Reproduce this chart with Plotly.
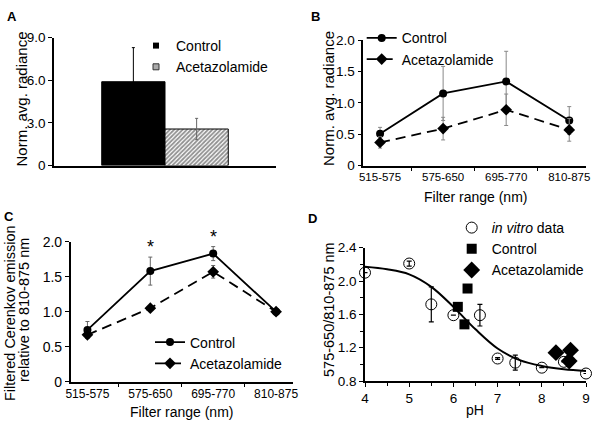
import plotly.graph_objects as go

# ---------- data ----------
# Panel A
a_group = ["all"]
a_ctrl = [5.9]
a_ctrl_err = [2.4]
a_acet = [2.57]
a_acet_err = [0.75]

# Panel B
filters = ["515-575", "575-650", "695-770", "810-875"]
b_ctrl = [0.51, 1.15, 1.34, 0.72]
b_ctrl_err = [0.10, 0.43, 0.48, 0.22]
b_acet = [0.37, 0.59, 0.89, 0.57]
b_acet_err = [0.09, 0.18, 0.25, 0.18]

# Panel C
c_ctrl = [0.74, 1.58, 1.83, 1.0]
c_ctrl_err = [0.12, 0.20, 0.10, 0.0]
c_acet = [0.67, 1.05, 1.57, 1.0]
c_acet_err = [0.05, 0.02, 0.09, 0.0]
c_star = ["", "*", "*", ""]

# Panel D
d_vitro_ph = [4.0, 5.0, 5.5, 6.0, 6.6, 7.0, 7.4, 8.0, 8.5, 9.0]
d_vitro_val = [2.10, 2.21, 1.72, 1.59, 1.59, 1.07, 1.02, 0.96, 1.03, 0.89]
d_vitro_err = [0.0, 0.03, 0.21, 0.0, 0.13, 0.01, 0.09, 0.0, 0.0, 0.0]
d_ctrl_ph = [6.10, 6.32, 6.25]
d_ctrl_val = [1.69, 1.91, 1.48]
d_acet_ph = [8.32, 8.65, 8.62]
d_acet_val = [1.14, 1.17, 1.04]
fit_ph = [4.0, 4.5, 5.0, 5.5, 6.0, 6.5, 7.0, 7.5, 8.0, 8.5, 9.0]
fit_val = [2.17, 2.14, 2.08, 1.93, 1.69, 1.42, 1.19, 1.05, 0.98, 0.94, 0.92]

FONT = "Liberation Sans, Arial, sans-serif"
W, H = 600, 427


def fx(p):
    return p / W


def fy(p):
    return 1 - p / H


fig = go.Figure()

# ---- Panel A ----
fig.add_trace(go.Bar(
    x=a_group, y=a_ctrl, name="Control", xaxis="x", yaxis="y", showlegend=False,
    marker=dict(color="black", line=dict(color="black", width=1)),
    error_y=dict(type="data", array=a_ctrl_err, color="black", thickness=1, width=1.5),
))
fig.add_trace(go.Bar(
    x=a_group, y=a_acet, name="Acetazolamide", xaxis="x", yaxis="y", showlegend=False,
    marker=dict(color="white", line=dict(color="black", width=1),
                pattern=dict(shape="/", fgcolor="#222", bgcolor="white", size=3, solidity=0.6)),
    error_y=dict(type="data", array=a_acet_err, color="#666", thickness=1, width=1.5),
))
# legend keys for panel A (small square swatches, as in the original)
fig.add_trace(go.Scatter(
    x=[None], y=[None], name="Control", mode="markers", xaxis="x", yaxis="y", legend="legend",
    marker=dict(symbol="square", size=6, color="black"),
))
fig.add_trace(go.Scatter(
    x=[None], y=[None], name="Acetazolamide", mode="markers", xaxis="x", yaxis="y", legend="legend",
    marker=dict(symbol="square", size=6, color="#aaaaaa", line=dict(color="#333", width=1)),
))

# ---- Panel B ----
fig.add_trace(go.Scatter(
    x=filters, y=b_ctrl, name="Control", mode="lines+markers", xaxis="x2", yaxis="y2",
    legend="legend2",
    line=dict(color="black", width=1.8),
    marker=dict(symbol="circle", size=8, color="black"),
    error_y=dict(type="data", array=b_ctrl_err, color="#888", thickness=1, width=2),
))
fig.add_trace(go.Scatter(
    x=filters, y=b_acet, name="Acetazolamide", mode="lines+markers", xaxis="x2", yaxis="y2",
    legend="legend2",
    line=dict(color="black", width=1.8, dash="10px,6px"),
    marker=dict(symbol="diamond", size=9, color="black"),
    error_y=dict(type="data", array=b_acet_err, color="#888", thickness=1, width=2),
))

# ---- Panel C ----
fig.add_trace(go.Scatter(
    x=filters, y=c_ctrl, name="Control", mode="lines+markers", xaxis="x3", yaxis="y3",
    legend="legend3",
    line=dict(color="black", width=1.8),
    marker=dict(symbol="circle", size=8, color="black"),
    error_y=dict(type="data", array=c_ctrl_err, color="#666", thickness=1, width=2),
))
fig.add_trace(go.Scatter(
    x=filters, y=c_acet, name="Acetazolamide", mode="lines+markers", xaxis="x3", yaxis="y3",
    legend="legend3",
    line=dict(color="black", width=1.8, dash="10px,6px"),
    marker=dict(symbol="diamond", size=9, color="black"),
    error_y=dict(type="data", array=c_acet_err, color="#666", thickness=1, width=2),
))

# ---- Panel D ----
fig.add_trace(go.Scatter(
    x=fit_ph, y=fit_val, mode="lines", line=dict(color="black", width=2, shape="spline"),
    xaxis="x4", yaxis="y4", showlegend=False, hoverinfo="skip",
))
fig.add_trace(go.Scatter(
    x=d_vitro_ph, y=d_vitro_val, name="<i>in vitro</i> data", mode="markers",
    xaxis="x4", yaxis="y4", legend="legend4", cliponaxis=False,
    marker=dict(symbol="circle-open", size=11, color="black", line=dict(width=1)),
    error_y=dict(type="data", array=d_vitro_err, color="black", thickness=1.2, width=2.5),
))
fig.add_trace(go.Scatter(
    x=d_ctrl_ph, y=d_ctrl_val, name="Control", mode="markers",
    xaxis="x4", yaxis="y4", legend="legend4", cliponaxis=False,
    marker=dict(symbol="square", size=10, color="black"),
))
fig.add_trace(go.Scatter(
    x=d_acet_ph, y=d_acet_val, name="Acetazolamide", mode="markers",
    xaxis="x4", yaxis="y4", legend="legend4", cliponaxis=False,
    marker=dict(symbol="diamond", size=13, color="black"),
))

axis_common = dict(showline=True, linecolor="black", linewidth=1.5, ticks="outside",
                   ticklen=4, tickcolor="black", tickwidth=1.2, showgrid=False,
                   zeroline=False, tickfont=dict(size=13.5, color="black"))

legend_common = dict(bgcolor="rgba(0,0,0,0)", font=dict(size=14, color="black"),
                     xanchor="left", yanchor="top", tracegroupgap=0,
                     itemclick=False, itemdoubleclick=False)

fig.update_layout(
    width=W, height=H,
    margin=dict(l=0, r=0, t=0, b=0, autoexpand=False),
    paper_bgcolor="white", plot_bgcolor="white",
    font=dict(family=FONT, color="black"),
    barmode="group", bargap=0.43, bargroupgap=0,
    xaxis=dict(domain=[fx(54), fx(276)], anchor="y", showticklabels=False, ticks="",
               showline=True, linecolor="black", linewidth=1.5, showgrid=False, zeroline=False),
    yaxis=dict(domain=[fy(165.5), fy(37.7)], anchor="x", range=[0, 9],
               tickvals=[0, 3, 6, 9], ticktext=["0", "3.0", "6.0", "9.0"], **axis_common),
    xaxis2=dict(domain=[fx(363.3), fx(586)], anchor="y2", type="category", tickson="boundaries",
                **{**axis_common, "tickfont": dict(size=11.5, color="black")}),
    yaxis2=dict(domain=[fy(165.7), fy(40)], anchor="x2", range=[0, 2],
                tickvals=[0, 0.5, 1, 1.5, 2], ticktext=["0", "0.5", "1.0", "1.5", "2.0"], **axis_common),
    xaxis3=dict(domain=[fx(70.7), fx(292.8)], anchor="y3", type="category", tickson="boundaries",
                **{**axis_common, "tickfont": dict(size=12, color="black")}),
    yaxis3=dict(domain=[fy(381.7), fy(241.7)], anchor="x3", range=[0, 2],
                tickvals=[0, 0.5, 1, 1.5, 2], ticktext=["0", "0.5", "1.0", "1.5", "2.0"],
                **{**axis_common, "tickfont": dict(size=14, color="black")}),
    xaxis4=dict(domain=[fx(365), fx(586)], anchor="y4", range=[4, 9],
                tickvals=[4, 5, 6, 7, 8, 9], minor=dict(dtick=0.5, ticks="outside", ticklen=3,
                                                         tickcolor="black"), **axis_common),
    yaxis4=dict(domain=[fy(381), fy(247.7)], anchor="x4", range=[0.8, 2.4],
                tickvals=[0.8, 1.2, 1.6, 2.0, 2.4], ticktext=["0.8", "1.2", "1.6", "2.0", "2.4"],
                minor=dict(dtick=0.2, ticks="outside", ticklen=3, tickcolor="black"), **axis_common),
    legend=dict(x=fx(136), y=fy(30), **legend_common),
    legend2=dict(x=fx(361.7), y=fy(22.3), **legend_common),
    legend3=dict(x=fx(150), y=fy(326.5), **legend_common),
    legend4=dict(x=fx(451.7), y=fy(212), **legend_common),
    showlegend=True,
)

annotations = [
    dict(text="<b>A</b>", x=fx(12), y=fy(16), font=dict(size=13)),
    dict(text="<b>B</b>", x=fx(316), y=fy(16), font=dict(size=13)),
    dict(text="<b>C</b>", x=fx(9), y=fy(216), font=dict(size=13)),
    dict(text="<b>D</b>", x=fx(312), y=fy(218), font=dict(size=13)),
    dict(text="Norm. avg. radiance", x=fx(20.5), y=fy(99), textangle=-90, font=dict(size=15)),
    dict(text="Norm. avg. radiance", x=fx(328.5), y=fy(98.5), textangle=-90, font=dict(size=15)),
    dict(text="Filtered Cerenkov emission", x=fx(9.5), y=fy(313.5), textangle=-90, font=dict(size=14.5)),
    dict(text="relative to 810-875 nm", x=fx(24), y=fy(310), textangle=-90, font=dict(size=14.5)),
    dict(text="575-650/810-875 nm", x=fx(329), y=fy(310), textangle=-90, font=dict(size=14.5)),
    dict(text="Filter range (nm)", x=fx(475), y=fy(197), font=dict(size=14)),
    dict(text="Filter range (nm)", x=fx(181), y=fy(411.5), font=dict(size=14)),
    dict(text="pH", x=fx(475), y=fy(410), font=dict(size=14)),
]
for a in annotations:
    a.update(xref="paper", yref="paper", showarrow=False, xanchor="center", yanchor="middle")
    a["font"] = dict(family=FONT, color="black", **a["font"])
    fig.add_annotation(**a)

# significance stars above control error bars in panel C
for cat, val, err, s in zip(filters, c_ctrl, c_ctrl_err, c_star):
    if s:
        fig.add_annotation(x=cat, y=val + err, xref="x3", yref="y3", text=s, showarrow=False,
                           yanchor="bottom", yshift=-2, font=dict(family=FONT, size=18, color="black"))

# the figure fills the 600x427 window exactly: drop the default page margin
fig.write_html("out.html", config={"displayModeBar": False},
               post_script="document.body.style.margin='0';")
